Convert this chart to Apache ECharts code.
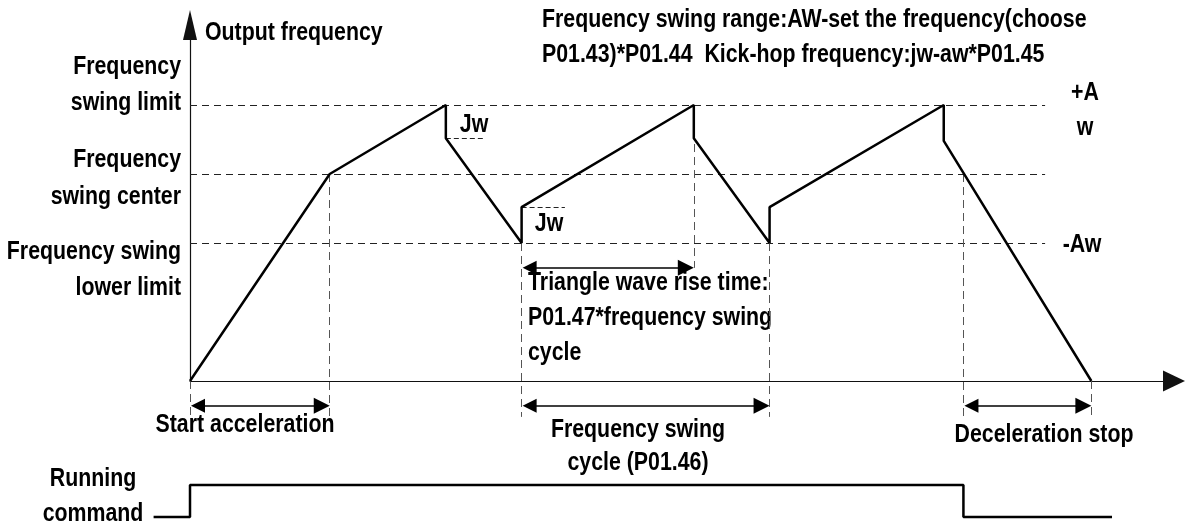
<!DOCTYPE html>
<html>
<head>
<meta charset="utf-8">
<title>Frequency swing</title>
<script src="https://cdn.jsdelivr.net/npm/echarts@6/dist/echarts.min.js"></script>
<style>
html, body { margin: 0; padding: 0; background: #fff; }
#main { width: 1187px; height: 531px; }
</style>
</head>
<body>
<div id="main"></div>
<script>
// output frequency waveform (time, frequency in % of swing limit)
const waveTime = [0, 14.2, 26, 26, 33.7, 33.7, 51.2, 51.2, 58.9, 58.9, 76.6, 76.6, 91.6];
const waveFreq = [0, 75, 100, 88, 50, 63, 100, 88, 50, 63, 100, 87, 0];

// swing limit / swing center / lower limit
const levelFreq = [100, 75, 50];
const levelEnd = 86.9;

// vertical guide lines
const guideTime = [0, 14.2, 33.7, 51.2, 58.9, 78.6, 91.6];
const guideTop = [0, 75, 50, 100, 50, 75, 0];
const guideBottom = [-13, -13, -13, 41, -13, -13, -13];

// Jw (kick-hop) marks
const jwFrom = [26, 33.7];
const jwTo = [30, 38.1];
const jwFreq = [88, 63];

// double arrows (start accel, swing cycle, decel stop, rise time)
const spanFrom = [0, 33.7, 78.6, 33.7];
const spanTo = [14.2, 58.9, 91.6, 51.2];
const spanLevel = [-9, -9, -9, 41];

// running command
const runTime = [-3.7, 0, 0, 78.6, 78.6, 93.7];
const runState = [0, 0, 1, 1, 0, 0];

// no narrow font installed, so squeeze Liberation Sans instead
const FONT = '"Liberation Sans", Arial, sans-serif';
const NARROW = 0.82;
const gridLeft = 190;
const gridRight = 13;
const tMax = 100;
const runMin = -4;
const pxPerT = (1187 - gridLeft - gridRight) / tMax;
const arrowLen = 16;
const inset = arrowLen / 2 / pxPerT;

function label(str, x, y, align, lh) {
  return {
    type: 'text',
    x: x,
    y: y,
    scaleX: NARROW,
    silent: true,
    style: {
      text: str,
      fill: '#000',
      fontSize: 26,
      fontWeight: 'bold',
      fontFamily: FONT,
      align: align,
      verticalAlign: 'middle',
      textAlign: align,
      textVerticalAlign: 'middle',
      lineHeight: lh || 35
    }
  };
}

const chart = echarts.init(document.getElementById('main'));

const dashLines = (data, color, dash) => ({
  type: 'lines',
  coordinateSystem: 'cartesian2d',
  xAxisIndex: 0,
  yAxisIndex: 0,
  clip: false,
  silent: true,
  symbol: 'none',
  lineStyle: { color: color, width: 1, type: dash, opacity: 1 },
  data: data
});

const option = {
  animation: false,
  backgroundColor: '#fff',
  grid: [
    { left: gridLeft, right: gridRight, top: 25, bottom: 150 },
    { left: gridLeft + runMin * pxPerT, right: gridRight, top: 485, height: 32 }
  ],
  xAxis: [
    {
      gridIndex: 0, type: 'value', min: 0, max: tMax,
      axisLine: { show: true, symbol: ['none', 'triangle'], symbolSize: [21, 22], lineStyle: { color: '#111', width: 1.2 } },
      axisTick: { show: false }, axisLabel: { show: false }, splitLine: { show: false }
    },
    { gridIndex: 1, type: 'value', min: runMin, max: tMax, show: false }
  ],
  yAxis: [
    {
      gridIndex: 0, type: 'value', min: 0, max: 129,
      axisLine: { show: true, symbol: ['none', 'triangle'], symbolSize: [14, 30], lineStyle: { color: '#111', width: 1.2 } },
      axisTick: { show: false }, axisLabel: { show: false }, splitLine: { show: false }
    },
    { gridIndex: 1, type: 'value', min: 0, max: 1, show: false }
  ],
  series: [
    dashLines(levelFreq.map(f => ({ coords: [[0, f], [levelEnd, f]] })), '#222', [7, 5]),
    dashLines(guideTime.map((t, i) => ({ coords: [[t, guideTop[i]], [t, guideBottom[i]]] })), '#555', [8, 5]),
    dashLines(jwFreq.map((f, i) => ({ coords: [[jwFrom[i], f], [jwTo[i], f]] })), '#222', [5, 3]),
    {
      type: 'lines',
      coordinateSystem: 'cartesian2d',
      clip: false,
      silent: true,
      symbol: ['triangle', 'triangle'],
      symbolSize: [14, arrowLen],
      lineStyle: { color: '#000', width: 1.5, type: 'solid', opacity: 1 },
      itemStyle: { color: '#000' },
      data: spanFrom.map((t, i) => ({ coords: [[t + inset, spanLevel[i]], [spanTo[i] - inset, spanLevel[i]]] }))
    },
    {
      type: 'line',
      xAxisIndex: 0,
      yAxisIndex: 0,
      symbol: 'none',
      clip: false,
      lineStyle: { color: '#000', width: 2.5 },
      data: waveTime.map((t, i) => [t, waveFreq[i]])
    },
    {
      type: 'line',
      xAxisIndex: 1,
      yAxisIndex: 1,
      symbol: 'none',
      clip: false,
      lineStyle: { color: '#000', width: 2.5 },
      data: runTime.map((t, i) => [t, runState[i]])
    }
  ],
  graphic: [
    label('Output frequency', 205, 33, 'left'),
    label('Frequency swing range:AW-set the frequency(choose\nP01.43)*P01.44  Kick-hop frequency:jw-aw*P01.45', 542, 37, 'left'),
    label('Frequency\nswing limit', 181, 85, 'right', 36),
    label('Frequency\nswing center', 181, 178, 'right', 37),
    label('Frequency swing\nlower limit', 181, 270, 'right', 36),
    label('+A\nw', 1085, 110, 'center'),
    label('-Aw', 1082, 245, 'center'),
    label('Jw', 474, 125, 'center'),
    label('Jw', 549, 224, 'center'),
    label('Triangle wave rise time:\nP01.47*frequency swing\ncycle', 528, 318, 'left'),
    label('Start acceleration', 245, 425, 'center'),
    label('Frequency swing\ncycle (P01.46)', 638, 446, 'center', 33),
    label('Deceleration stop', 1044, 435, 'center'),
    label('Running\ncommand', 93, 496, 'center')
  ]
};

chart.setOption(option);
</script>
</body>
</html>
